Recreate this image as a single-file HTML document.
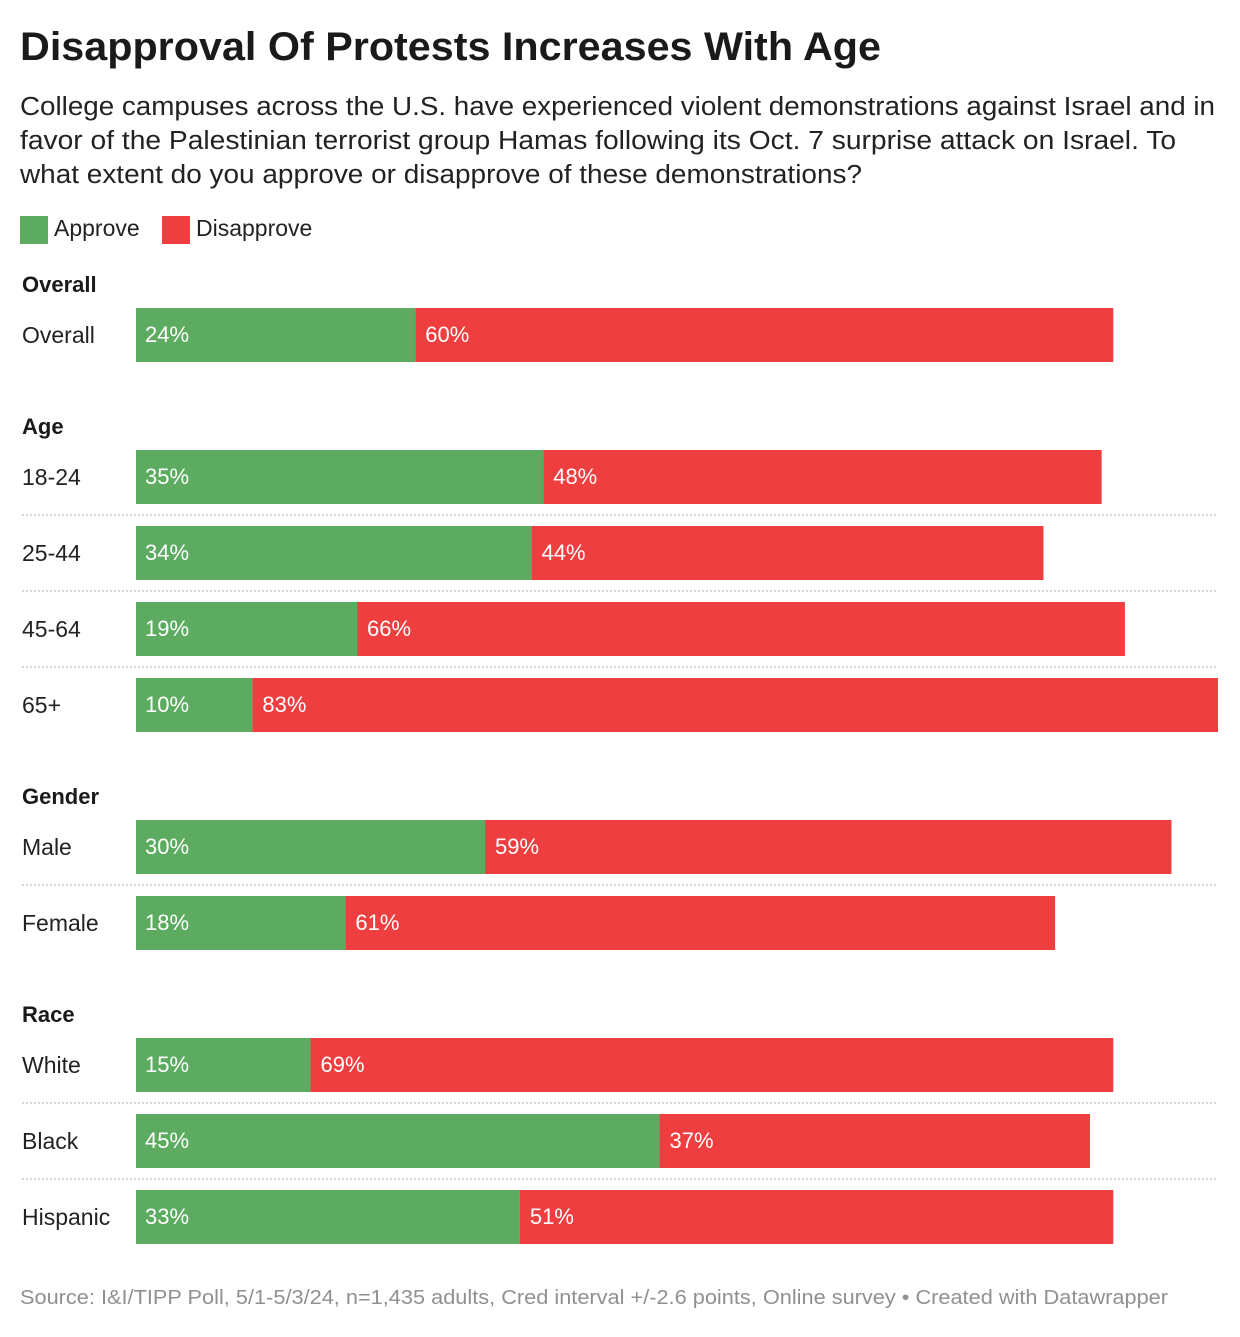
<!DOCTYPE html>
<html><head><meta charset="utf-8"><style>
body{margin:0;background:#fff;font-family:"Liberation Sans",Arial,sans-serif;}
svg text{font-family:"Liberation Sans",Arial,sans-serif;}
</style></head><body>
<svg id="chart" width="1240" height="1332" xmlns="http://www.w3.org/2000/svg">
<text x="20" y="60" font-size="40" font-weight="bold" fill="#1a1a1a" textLength="861" lengthAdjust="spacingAndGlyphs">Disapproval Of Protests Increases With Age</text>
<g font-size="25.5" fill="#222">
<text x="20" y="115" textLength="1195" lengthAdjust="spacingAndGlyphs">College campuses across the U.S. have experienced violent demonstrations against Israel and in</text>
<text x="20" y="149" textLength="1156" lengthAdjust="spacingAndGlyphs">favor of the Palestinian terrorist group Hamas following its Oct. 7 surprise attack on Israel. To</text>
<text x="20" y="183" textLength="842" lengthAdjust="spacingAndGlyphs">what extent do you approve or disapprove of these demonstrations?</text>
</g>
<g font-size="23" fill="#222">
<rect x="20" y="216" width="28" height="28" fill="#5dab61"/>
<text x="54" y="236">Approve</text>
<rect x="162" y="216" width="28" height="28" fill="#ee3e3f"/>
<text x="196" y="236">Disapprove</text>
</g>
<g id="bars"></g>
<text x="20" y="1304" font-size="20" fill="#909090" textLength="1148" lengthAdjust="spacingAndGlyphs">Source: I&amp;I/TIPP Poll, 5/1-5/3/24, n=1,435 adults, Cred interval +/-2.6 points, Online survey • Created with Datawrapper</text>
</svg>
<script>
const groups = ["Overall","Age","Gender","Race"];
const categories = ["Overall","18-24","25-44","45-64","65+","Male","Female","White","Black","Hispanic"];
const categoryGroup = [0,1,1,1,1,2,2,3,3,3];
const approve = [24,35,34,19,10,30,18,15,45,33];
const disapprove = [60,48,44,66,83,59,61,69,37,51];

const NS="http://www.w3.org/2000/svg";
const g=document.getElementById('bars');
const x0=136, pxPer=(1218-136)/93;
const xs=v=>x0+v*pxPer;
function mk(tag,attrs,txt){const e=document.createElementNS(NS,tag);for(const k in attrs)e.setAttribute(k,attrs[k]);if(txt!==undefined)e.textContent=txt;g.appendChild(e);return e;}
let y=260, prevGroup=-1;
categories.forEach((c,i)=>{
  if(categoryGroup[i]!==prevGroup){
    if(prevGroup!==-1) y+=18;
    const h=mk('text',{x:22,y:y+32,'font-size':22,'font-weight':'bold',fill:'#1a1a1a'},groups[categoryGroup[i]]);
    
    
    y+=48; prevGroup=categoryGroup[i];
  } else {
    const l=mk('line',{x1:22,x2:1218,y1:y-11,y2:y-11,stroke:'#ccc','stroke-width':1.5,'stroke-dasharray':'2,2'});
    
    
  }
  const lab=mk('text',{x:22,y:y+35,'font-size':23,fill:'#222'},c);
  
  
  const a=mk('rect',{x:x0,y:y,width:xs(approve[i])-x0,height:54,fill:'#5dab61'});
  
  
  const d=mk('rect',{x:xs(approve[i]),y:y,width:xs(approve[i]+disapprove[i])-xs(approve[i]),height:54,fill:'#ee3e3f'});
  
  
  const at=mk('text',{x:x0+9,y:y+34,'font-size':22,fill:'#fff'},approve[i]+'%');
  
  
  const dt=mk('text',{x:xs(approve[i])+10,y:y+34,'font-size':22,fill:'#fff'},disapprove[i]+'%');
  
  
  y+=76;
});
</script>
</body></html>
